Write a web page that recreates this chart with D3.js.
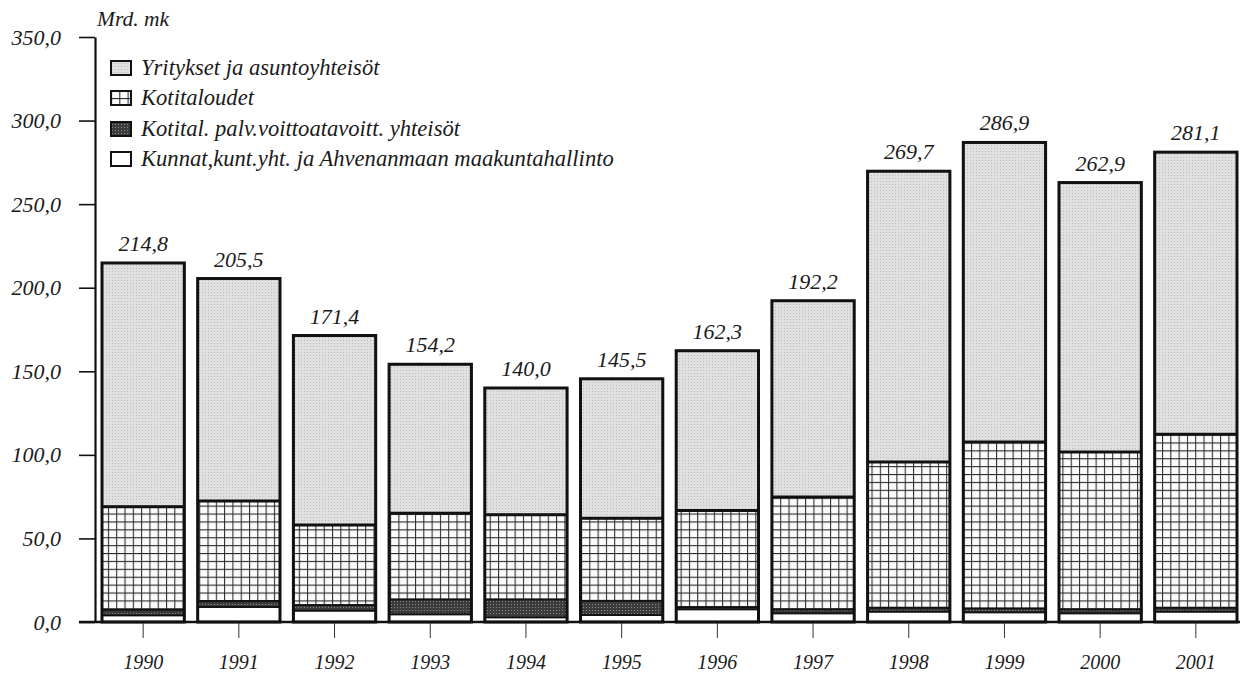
<!DOCTYPE html>
<html>
<head>
<meta charset="utf-8">
<script src="https://cdn.jsdelivr.net/npm/d3@7"></script>
<style>
  body { margin: 0; background: #fff; }
  text { font-family: "Liberation Serif", "Times New Roman", "DejaVu Serif", serif; font-style: italic; fill: #1a1a1a; }
</style>
</head>
<body>
<svg id="chart" width="1243" height="674"></svg>
<script>
const years = ["1990", "1991", "1992", "1993", "1994", "1995", "1996", "1997", "1998", "1999", "2000", "2001"];
// stacks, bottom to top
const kunnat = [4.0, 9.0, 6.8, 4.6, 2.8, 4.2, 7.6, 5.2, 6.2, 5.8, 5.2, 6.2];
const voittoa = [3.4, 3.6, 3.4, 9.0, 10.8, 8.5, 1.4, 2.4, 2.4, 2.4, 2.4, 2.4];
const kotitaloudet = [61.6, 59.8, 47.8, 51.4, 50.6, 49.4, 57.7, 67.2, 87.1, 99.5, 94.1, 103.8];
const yritykset = [145.8, 133.1, 113.4, 89.2, 75.8, 83.4, 95.6, 117.4, 174.0, 179.2, 161.2, 168.7];
const totals = [214.8, 205.5, 171.4, 154.2, 140.0, 145.5, 162.3, 192.2, 269.7, 286.9, 262.9, 281.1];
const yTicks = [0, 50, 100, 150, 200, 250, 300, 350];
const seriesNames = [
  "Yritykset ja asuntoyhteisöt",
  "Kotitaloudet",
  "Kotital. palv.voittoatavoitt. yhteisöt",
  "Kunnat,kunt.yht. ja Ahvenanmaan maakuntahallinto"
];

const svg = d3.select("svg#chart");
const fi = d3.formatLocale({ decimal: ",", thousands: " ", grouping: [3], currency: ["", " mk"] });
const fmt = fi.format(".1f");

const x = d3.scaleBand(years, [95.3, 1243.7]).paddingInner(0.14).paddingOuter(0.07);
const y = d3.scaleLinear([0, 350], [622, 37]);

// patterns
const defs = svg.append("defs");
const grid = defs.append("pattern")
  .attr("id", "grid")
  .attr("patternUnits", "userSpaceOnUse")
  .attr("width", 8.3).attr("height", 7.9);
grid.append("rect").attr("width", 8.3).attr("height", 7.9).attr("fill", "#fbfbfb");
grid.append("line").attr("x1", 0).attr("x2", 8.3).attr("y1", 0.5).attr("y2", 0.5)
  .attr("stroke", "#2a2a2a").attr("stroke-width", 1.2);
grid.append("line").attr("x1", 0.5).attr("x2", 0.5).attr("y1", 0).attr("y2", 7.9)
  .attr("stroke", "#2a2a2a").attr("stroke-width", 1.1);

const stip = defs.append("pattern")
  .attr("id", "stip")
  .attr("patternUnits", "userSpaceOnUse")
  .attr("width", 3).attr("height", 3);
stip.append("rect").attr("width", 3).attr("height", 3).attr("fill", "#e0e0e0");
stip.append("rect").attr("x", 1).attr("y", 1).attr("width", 1).attr("height", 1).attr("fill", "#bdbdbd");

const dark = defs.append("pattern")
  .attr("id", "dark")
  .attr("patternUnits", "userSpaceOnUse")
  .attr("width", 3).attr("height", 3);
dark.append("rect").attr("width", 3).attr("height", 3).attr("fill", "#3c3c3c");
dark.append("rect").attr("x", 1).attr("y", 1).attr("width", 1).attr("height", 1).attr("fill", "#8a8a8a");

const fills = ["url(#stip)", "url(#grid)", "url(#dark)", "#ffffff"];

// stacked data
const rows = years.map((yr, i) => ({
  year: yr,
  kunnat: kunnat[i],
  voittoa: voittoa[i],
  kotitaloudet: kotitaloudet[i],
  yritykset: yritykset[i]
}));
const keys = ["kunnat", "voittoa", "kotitaloudet", "yritykset"];
const stacked = d3.stack().keys(keys)(rows);
const fillByKey = { kunnat: "#ffffff", voittoa: "url(#dark)", kotitaloudet: "url(#grid)", yritykset: "url(#stip)" };

let chartArea = svg.append("g");

chartArea.selectAll("g.layer")
  .data(stacked)
  .join("g")
  .attr("class", "layer")
  .attr("fill", (d) => fillByKey[d.key])
  .selectAll("rect")
  .data((d) => d)
  .join("rect")
  .attr("x", (d) => x(d.data.year))
  .attr("width", x.bandwidth())
  .attr("y", (d) => y(d[1]))
  .attr("height", (d) => y(d[0]) - y(d[1]))
  .attr("stroke", "#111")
  .attr("stroke-width", 1.8);

// thick line between firms and households
chartArea.selectAll("line.split")
  .data(stacked[2])
  .join("line")
  .attr("class", "split")
  .attr("x1", (d) => x(d.data.year))
  .attr("x2", (d) => x(d.data.year) + x.bandwidth())
  .attr("y1", (d) => y(d[1]))
  .attr("y2", (d) => y(d[1]))
  .attr("stroke", "#111")
  .attr("stroke-width", 3);

// bar outlines
chartArea.selectAll("rect.outline")
  .data(years)
  .join("rect")
  .attr("class", "outline")
  .attr("x", (d) => x(d))
  .attr("width", x.bandwidth())
  .attr("y", (d, i) => y(totals[i]))
  .attr("height", (d, i) => y(0) - y(totals[i]))
  .attr("fill", "none")
  .attr("stroke", "#111")
  .attr("stroke-width", 3);

// total labels
chartArea.selectAll("text.total")
  .data(years)
  .join("text")
  .attr("class", "total")
  .attr("x", (d) => x(d) + x.bandwidth() / 2)
  .attr("y", (d, i) => y(totals[i]) - 12)
  .attr("text-anchor", "middle")
  .attr("font-size", 22)
  .text((d, i) => fmt(totals[i]));

// y axis
const yAxis = d3.axisLeft(y).tickValues(yTicks).tickSize(16).tickSizeOuter(0).tickPadding(18)
  .tickFormat((d) => fmt(d));
const yg = svg.append("g").attr("transform", "translate(95,0)").call(yAxis);
yg.select(".domain").attr("stroke", "#111").attr("stroke-width", 2.2);
yg.selectAll(".tick line").attr("stroke", "#111").attr("stroke-width", 1.6);
yg.selectAll(".tick text").attr("font-size", 22).attr("font-family", null).attr("fill", "#1a1a1a");

// baseline
svg.append("line")
  .attr("x1", 79).attr("x2", 1240)
  .attr("y1", y(0)).attr("y2", y(0))
  .attr("stroke", "#111").attr("stroke-width", 2.6);

// x axis
const xAxis = d3.axisBottom(x).tickSize(15).tickSizeOuter(0).tickPadding(17);
const xg = svg.append("g").attr("transform", `translate(0,${y(0) + 1})`).call(xAxis);
xg.select(".domain").remove();
xg.selectAll(".tick line").attr("stroke", "#333").attr("stroke-width", 1);
xg.selectAll(".tick text").attr("font-size", 20).attr("font-family", null).attr("fill", "#1a1a1a");

// unit label
svg.append("text").attr("x", 97).attr("y", 26).attr("font-size", 21.5).text("Mrd. mk");

// legend
const legend = svg.append("g").attr("transform", "translate(111,0)");
const legendY = [68, 98, 129, 159];
const item = legend.selectAll("g.item")
  .data(seriesNames)
  .join("g")
  .attr("class", "item")
  .attr("transform", (d, i) => `translate(0,${legendY[i]})`);
item.append("rect")
  .attr("x", 0).attr("y", -7).attr("width", 20).attr("height", 14)
  .attr("fill", (d, i) => fills[i])
  .attr("stroke", "#111").attr("stroke-width", 2);
item.append("text")
  .attr("x", 30).attr("y", 7)
  .attr("font-size", 22.6)
  .text((d) => d);
</script>
</body>
</html>
